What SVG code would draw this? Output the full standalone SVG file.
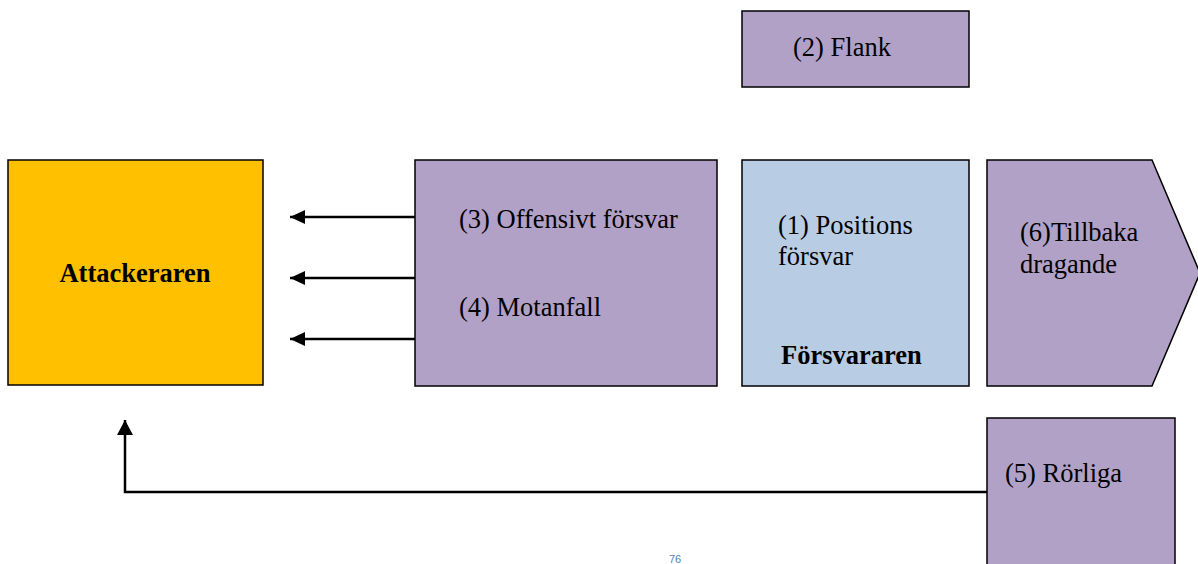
<svg xmlns="http://www.w3.org/2000/svg" width="1198" height="564" viewBox="0 0 1198 564">
<style>
text{font-family:"Liberation Serif","Times New Roman",serif;font-size:26.5px;fill:#000}
.b{font-weight:bold}
.box{stroke:#000;stroke-width:1.5}
.p{fill:#B2A1C7}
.c{fill:none;stroke:#000;stroke-width:2.5}
</style>
<defs>
<marker id="ah" markerWidth="15" markerHeight="14" refX="15" refY="7" orient="auto" markerUnits="userSpaceOnUse" viewBox="0 0 15 14">
<path d="M0,0 L15,7 L0,14 Z" fill="#000"/>
</marker>
<marker id="au" markerWidth="16" markerHeight="15" refX="8" refY="0" orient="0" markerUnits="userSpaceOnUse" viewBox="0 0 16 15">
<path d="M0,15 L8,0 L16,15 Z" fill="#000"/>
</marker>
</defs>
<rect width="1198" height="564" fill="#fff"/>
<g id="attackeraren">
<rect class="box" x="8" y="160" width="255" height="225" fill="#FFC000"/>
<text class="b" x="135" y="282" text-anchor="middle">Attackeraren</text>
</g>
<g id="offensivt">
<rect class="box p" x="415" y="160" width="302" height="226"/>
<text x="459" y="228">(3) Offensivt försvar</text>
<text x="459" y="316">(4) Motanfall</text>
</g>
<g id="forsvararen">
<rect class="box" x="742" y="160" width="227" height="226" fill="#B8CCE4"/>
<text x="778" y="234">(1) Positions</text>
<text x="778" y="265">försvar</text>
<text class="b" x="781" y="364">Försvararen</text>
</g>
<g id="flank">
<rect class="box p" x="742" y="11" width="227" height="76"/>
<text x="793" y="56">(2) Flank</text>
</g>
<g id="tillbaka">
<path class="box p" d="M987,160 L1152,160 L1200,273 L1152,386 L987,386 Z"/>
<text x="1020" y="241">(6)Tillbaka</text>
<text x="1020" y="273">dragande</text>
</g>
<g id="rorliga">
<rect class="box p" x="987" y="418" width="188" height="160"/>
<text x="1005" y="482">(5) Rörliga</text>
</g>
<g id="connectors">
<line class="c" x1="415" y1="217" x2="290" y2="217" marker-end="url(#ah)"/>
<line class="c" x1="415" y1="278" x2="290" y2="278" marker-end="url(#ah)"/>
<line class="c" x1="415" y1="339" x2="290" y2="339" marker-end="url(#ah)"/>
<path class="c" d="M987,492 L125,492 L125,420" marker-end="url(#au)"/>
</g>
<text x="669" y="563" style="font-size:11px;fill:#4F81BD;font-family:'Liberation Sans',sans-serif">76</text>
</svg>
